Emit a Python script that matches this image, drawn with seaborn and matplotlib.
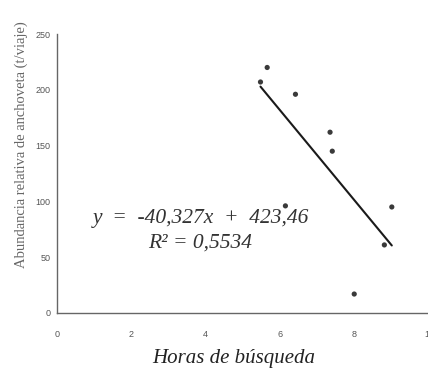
import matplotlib
matplotlib.use("Agg")
import matplotlib.pyplot as plt
import seaborn as sns
import numpy as np
import pandas as pd

# Hours of search vs. relative anchovy abundance
horas = [5.47, 5.65, 6.14, 6.41, 7.34, 7.40, 7.99, 8.80, 9.00]
abundancia = [207, 220, 96, 196, 162, 145, 17, 61, 95]

# Fitted trend line
pendiente = -40.327
intercepto = 423.46
r2 = 0.5534

x_ticks = [0, 2, 4, 6, 8, 10]
y_ticks = [0, 50, 100, 150, 200, 250]

sns.set_theme(style="white")
plt.rcParams["font.family"] = ["Liberation Sans Narrow", "Liberation Sans", "DejaVu Sans"]
serif = ["Liberation Serif", "DejaVu Serif"]

fig = plt.figure(figsize=(4.28, 3.75), dpi=100)
ax = fig.add_axes([57 / 428, 62 / 375, 372 / 428, 279 / 375])

df = pd.DataFrame({"horas": horas, "abundancia": abundancia})
sns.scatterplot(data=df, x="horas", y="abundancia", ax=ax, color="#3a3a3a",
                s=14, edgecolor="none", zorder=3)

xl = np.array([min(horas), max(horas)])
trend = pd.DataFrame({"x": xl, "y": pendiente * xl + intercepto})
sns.lineplot(data=trend, x="x", y="y", ax=ax, color="#1a1a1a", lw=1.5, zorder=2)

ax.set_xlim(0, 10)
ax.set_ylim(0, 250)
ax.set_xticks(x_ticks)
ax.set_yticks(y_ticks)
ax.set_xticklabels([str(t) for t in x_ticks])
ax.set_yticklabels([str(t) for t in y_ticks])
ax.tick_params(axis="both", labelsize=6.5, colors="#555555", length=3, width=0.8,
               direction="out", pad=1.5)
ax.tick_params(axis="x", length=4, pad=8)

for side in ["top", "right"]:
    ax.spines[side].set_visible(False)
for side in ["left", "bottom"]:
    ax.spines[side].set_color("#666666")
    ax.spines[side].set_linewidth(1.0)

ax.set_xlabel("Horas de búsqueda", fontsize=15, fontstyle="italic",
              family=serif, color="#222222")
ax.xaxis.set_label_coords((234 - 57) / 372, (313 - 349) / 279)
ax.set_ylabel("Abundancia relativa de anchoveta (t/viaje)", fontsize=10.5,
              family=serif, color="#666666")
ax.yaxis.set_label_coords((28 - 57) / 372, (313 - 145) / 279)

ax.text(0.95, 85, "y  =  -40,327x  +  423,46", fontsize=15.5, fontstyle="italic",
        family=serif, color="#333333", va="center")
ax.text(2.45, 63, "R² = 0,5534", fontsize=15.5, fontstyle="italic",
        family=serif, color="#333333", va="center")

fig.savefig("out.png", dpi=100)
